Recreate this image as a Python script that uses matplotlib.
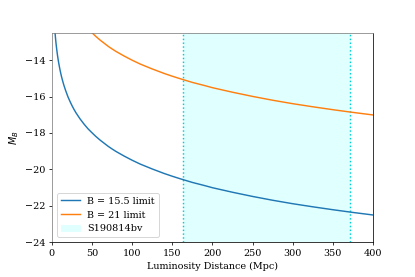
import matplotlib
matplotlib.use("Agg")
import matplotlib.pyplot as plt

plt.rcParams['font.family'] = 'DejaVu Serif'

# Luminosity distance (Mpc) sample points
distance = [3.5, 4, 4.5, 5, 5.5, 6, 7, 8, 9, 10, 11, 12, 13, 14, 15, 17, 20, 22.5, 25,
            27.5, 30, 35, 40, 45, 50, 55, 60, 65, 70, 75, 80, 90, 100, 110, 125, 140,
            150, 160, 175, 190, 200, 225, 250, 275, 300, 325, 350, 375, 400]
# Absolute magnitude limit for B = 15.5
mb_155 = [-12.22, -12.51, -12.77, -13.00, -13.20, -13.39, -13.73, -14.02, -14.27, -14.50,
          -14.71, -14.90, -15.07, -15.23, -15.38, -15.65, -16.01, -16.26, -16.49,
          -16.70, -16.89, -17.22, -17.51, -17.77, -17.99, -18.20, -18.39, -18.56, -18.73,
          -18.88, -19.02, -19.27, -19.50, -19.71, -19.98, -20.23, -20.38, -20.52, -20.72,
          -20.89, -21.01, -21.26, -21.49, -21.70, -21.89, -22.06, -22.22, -22.37, -22.51]
# Absolute magnitude limit for B = 21
mb_21 = [-6.72, -7.01, -7.27, -7.50, -7.70, -7.89, -8.23, -8.52, -8.77, -9.00,
         -9.21, -9.40, -9.57, -9.73, -9.88, -10.15, -10.51, -10.76, -10.99,
         -11.20, -11.39, -11.72, -12.01, -12.27, -12.49, -12.70, -12.89, -13.06, -13.23,
         -13.38, -13.52, -13.77, -14.00, -14.21, -14.48, -14.73, -14.88, -15.02, -15.22,
         -15.39, -15.51, -15.76, -15.99, -16.20, -16.39, -16.56, -16.72, -16.87, -17.01]
# S190814bv distance range (Mpc)
event_range = [163, 371]

labels = ['B = 15.5 limit', 'B = 21 limit', 'S190814bv']

fig = plt.figure(figsize=(6, 4.005), dpi=415 / 6)
ax = fig.add_axes([0.125, 0.126, 0.774, 0.755])

ax.plot(distance, mb_155, color='#1f77b4', lw=1.5, label=labels[0])
ax.plot(distance, mb_21, color='#ff7f0e', lw=1.5, label=labels[1])
ax.axvspan(event_range[0], event_range[1], color='lightcyan', label=labels[2], zorder=0)
for d in event_range:
    ax.axvline(d, color='darkturquoise', ls=':', lw=1.5, zorder=1)

ax.set_xlim(0, 400)
ax.set_ylim(-24, -12.5)
ax.set_xticks([0, 50, 100, 150, 200, 250, 300, 350, 400])
ax.set_yticks([-24, -22, -20, -18, -16, -14])
ax.set_xlabel('Luminosity Distance (Mpc)')
ax.set_ylabel('$M_B$')

ax.spines['left'].set_color('gray')
ax.spines['top'].set_color('gray')

ax.legend(loc='lower left')

fig.savefig('out.png', dpi=415 / 6)
